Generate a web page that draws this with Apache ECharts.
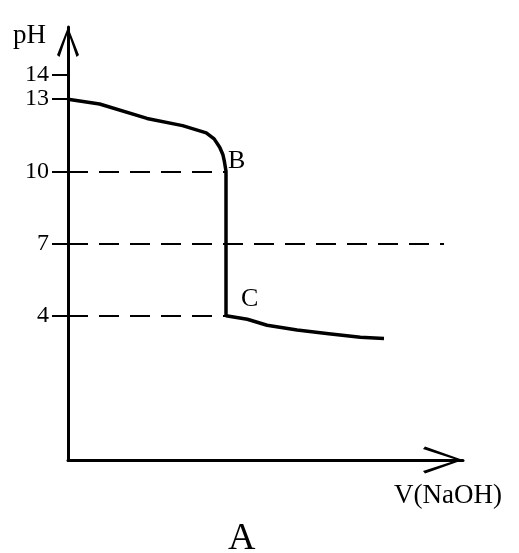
<!DOCTYPE html>
<html>
<head>
<meta charset="utf-8">
<script src="https://cdn.jsdelivr.net/npm/echarts@6/dist/echarts.min.js"></script>
<style>
  html,body{margin:0;padding:0;background:#fff;}
  #chart{width:519px;height:553px;}
</style>
</head>
<body>
<div id="chart"></div>
<script>
'use strict';
// titration curve, V(NaOH) in mL (axis unlabeled), pH
var volume = [0, 4, 10, 14.5, 17.5, 18.5, 19.2, 19.6, 19.8, 20, 20, 22.7, 25.2, 29, 33, 37, 40];
var ph     = [13, 12.8, 12.2, 11.9, 11.6, 11.35, 11.0, 10.7, 10.4, 10, 4, 3.85, 3.6, 3.4, 3.25, 3.1, 3.05];
var phTicks = [4, 7, 10, 13, 14];
// dashed guides: level and where they stop
var guideLevels = [10, 7, 4];
var guideEnds = [20, 47.6, 20];
var pointNames = ['B', 'C'];
var pointV = [20, 20];
var pointPH = [10, 4];

var serif = 'Liberation Serif';
var yArrow = 'path://M11,0 L22,28 L19.5,30 L11,5 L2.5,30 L0,28 Z';
var xArrow = 'path://M13.5,0 L27,38 L24.5,40 L13.5,6 L2.5,40 L0,38 Z';

var curve = volume.map(function (v, i) { return [v, ph[i]]; });
var guides = guideLevels.map(function (lv, i) {
  return [{coord: [0, lv]}, {coord: [guideEnds[i], lv]}];
});
var points = pointNames.map(function (n, i) {
  return {name: n, value: [pointV[i], pointPH[i]]};
});

var myChart = echarts.init(document.getElementById('chart'));
var option = {
  animation: false,
  backgroundColor: '#fff',
  title: [
    {text: 'pH', left: 8, top: 17, textStyle: {fontFamily: serif, fontSize: 27, fontWeight: 'normal', color: '#000'}},
    {text: 'V(NaOH)', left: 389, top: 477, textStyle: {fontFamily: serif, fontSize: 27, fontWeight: 'normal', color: '#000'}},
    {text: 'A', left: 223, top: 515, textStyle: {fontFamily: serif, fontSize: 38, fontWeight: 'normal', color: '#000'}}
  ],
  grid: {left: 68, right: 56, top: 27, bottom: 93},
  xAxis: {
    type: 'value', min: 0, max: 50,
    axisLine: {onZero: false, lineStyle: {color: '#000', width: 3},
      symbol: ['none', xArrow], symbolSize: [27, 40], symbolOffset: [0, -20]},
    axisTick: {show: false}, axisLabel: {show: false}, splitLine: {show: false}
  },
  yAxis: {
    type: 'value', min: -2, max: 16,
    axisLine: {show: true, onZero: false, lineStyle: {color: '#000', width: 3},
      symbol: ['none', yArrow], symbolSize: [22, 30], symbolOffset: [0, -15]},
    axisTick: {show: true, length: 16, customValues: phTicks, lineStyle: {color: '#000', width: 2}},
    axisLabel: {customValues: phTicks, margin: 19, hideOverlap: false, showMinLabel: true, showMaxLabel: true,
      fontFamily: serif, fontSize: 24, color: '#000'},
    splitLine: {show: false}
  },
  series: [
    {
      type: 'line', data: curve, showSymbol: false, smooth: false,
      lineStyle: {color: '#000', width: 3.5},
      markLine: {
        silent: true, symbol: ['none', 'none'], label: {show: false},
        lineStyle: {color: '#000', width: 2, type: [20, 11]},
        data: guides
      }
    },
    {
      type: 'scatter', data: points, symbolSize: 0, itemStyle: {opacity: 1},
      label: {show: true, formatter: '{b}', position: 'right', fontFamily: serif, fontSize: 26, color: '#000'},
      labelLayout: function (p) {
        return p.dataIndex === 0 ? {dx: -3, dy: -10} : {dx: 10, dy: -16};
      }
    }
  ]
};
myChart.setOption(option);
</script>
</body>
</html>
